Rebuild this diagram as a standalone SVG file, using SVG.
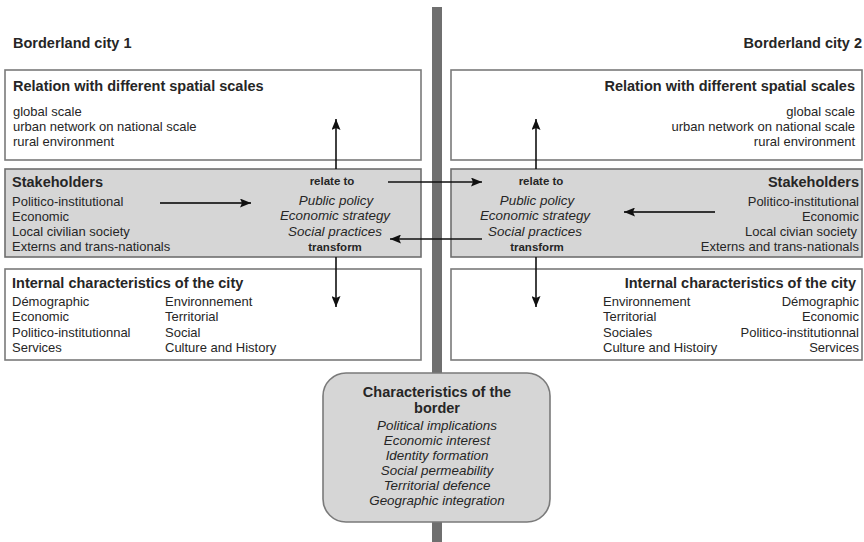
<svg xmlns="http://www.w3.org/2000/svg" width="864" height="542" viewBox="0 0 864 542">
<style>
text{font-family:"Liberation Sans",Arial,sans-serif;fill:#262626}
.h{font-size:14.5px;font-weight:bold}
.b{font-size:13px}
.i{font-size:13.4px;font-style:italic}
.s{font-size:11.5px;font-weight:bold}
.e{text-anchor:end}
.m{text-anchor:middle}
.wbox{fill:#fff;stroke:#7a7a7a;stroke-width:1.6}
.gbox{fill:#d6d6d6;stroke:#6e6e6e;stroke-width:1.6}
.arr{stroke:#111;stroke-width:1.6;fill:none;marker-end:url(#ah)}
.arr2{stroke:#333;stroke-width:2.2;fill:none;marker-end:url(#ah)}
</style>
<defs>
<marker id="ah" markerUnits="userSpaceOnUse" markerWidth="12" markerHeight="9" refX="11" refY="4.5" orient="auto">
<path d="M0,0 L11,4.5 L0,9 L2,4.5 z" fill="#111"/>
</marker>
</defs>
<rect width="864" height="542" fill="#fff"/>
<g id="border-line"><rect x="432" y="7" width="10" height="535" fill="#6f6f6f"/></g>

<g id="title1"><text class="h" x="13" y="48">Borderland city 1</text></g>
<g id="title2"><text class="h e" x="862" y="48">Borderland city 2</text></g>

<g id="scales1">
<rect class="wbox" x="5" y="70" width="416" height="90"/>
<text class="h" x="13" y="91">Relation with different spatial scales</text>
<text class="b" x="13" y="116">global scale</text>
<text class="b" x="13" y="131">urban network on national scale</text>
<text class="b" x="13" y="146">rural environment</text>
</g>
<g id="scales2">
<rect class="wbox" x="451" y="70" width="411" height="90"/>
<text class="h e" x="855" y="91">Relation with different spatial scales</text>
<text class="b e" x="855" y="116">global scale</text>
<text class="b e" x="855" y="131">urban network on national scale</text>
<text class="b e" x="855" y="146">rural environment</text>
</g>

<g id="stake1">
<rect class="gbox" x="5" y="169" width="416" height="88"/>
<text class="h" x="12" y="187">Stakeholders</text>
<text class="b" x="12" y="206">Politico-institutional</text>
<text class="b" x="12" y="221">Economic</text>
<text class="b" x="12" y="236">Local civilian society</text>
<text class="b" x="12" y="251">Externs and trans-nationals</text>
<text class="s m" x="332" y="185">relate to</text>
<text class="i m" x="336" y="205">Public policy</text>
<text class="i m" x="335" y="220">Economic strategy</text>
<text class="i m" x="335" y="236">Social practices</text>
<text class="s m" x="335" y="251">transform</text>
</g>
<g id="stake2">
<rect class="gbox" x="451" y="169" width="411" height="88"/>
<text class="h e" x="859" y="187">Stakeholders</text>
<text class="b e" x="859" y="206">Politico-institutional</text>
<text class="b e" x="859" y="221">Economic</text>
<text class="b e" x="857" y="236">Local civian society</text>
<text class="b e" x="859" y="251">Externs and trans-nationals</text>
<text class="s m" x="541" y="185">relate to</text>
<text class="i m" x="537" y="205">Public policy</text>
<text class="i m" x="535" y="220">Economic strategy</text>
<text class="i m" x="535" y="236">Social practices</text>
<text class="s m" x="537" y="251">transform</text>
</g>

<g id="internal1">
<rect class="wbox" x="5" y="269" width="416" height="91"/>
<text class="h" x="12" y="288">Internal characteristics of the city</text>
<text class="b" x="12" y="306">Démographic</text>
<text class="b" x="12" y="321">Economic</text>
<text class="b" x="12" y="337">Politico-institutionnal</text>
<text class="b" x="12" y="352">Services</text>
<text class="b" x="165" y="306">Environnement</text>
<text class="b" x="165" y="321">Territorial</text>
<text class="b" x="165" y="337">Social</text>
<text class="b" x="165" y="352">Culture and History</text>
</g>
<g id="internal2">
<rect class="wbox" x="451" y="269" width="411" height="91"/>
<text class="h e" x="856" y="288">Internal characteristics of the city</text>
<text class="b" x="603" y="306">Environnement</text>
<text class="b" x="603" y="321">Territorial</text>
<text class="b" x="603" y="337">Sociales</text>
<text class="b" x="603" y="352">Culture and Histoiry</text>
<text class="b e" x="859" y="306">Démographic</text>
<text class="b e" x="859" y="321">Economic</text>
<text class="b e" x="859" y="337">Politico-institutionnal</text>
<text class="b e" x="859" y="352">Services</text>
</g>

<g id="border-characteristics">
<rect x="323" y="373" width="227" height="149" rx="23" ry="23" fill="#d6d6d6" stroke="#7a7a7a" stroke-width="1.6"/>
<text class="h m" x="437" y="397">Characteristics of the</text>
<text class="h m" x="437" y="413">border</text>
<text class="i m" x="437" y="430">Political implications</text>
<text class="i m" x="437" y="445">Economic interest</text>
<text class="i m" x="437" y="460">Identity formation</text>
<text class="i m" x="437" y="475">Social permeability</text>
<text class="i m" x="437" y="490">Territorial defence</text>
<text class="i m" x="437" y="505">Geographic integration</text>
</g>

<g id="connectors">
<line class="arr" x1="336" y1="169" x2="336" y2="119"/>
<line class="arr" x1="336" y1="257" x2="336" y2="307"/>
<line class="arr" x1="536" y1="169" x2="536" y2="119"/>
<line class="arr" x1="536" y1="257" x2="536" y2="307"/>
<line class="arr" x1="388" y1="182" x2="482" y2="182"/>
<line class="arr" x1="482" y1="239" x2="390" y2="239"/>
<line class="arr2" x1="160" y1="203" x2="251" y2="203"/>
<line class="arr2" x1="715" y1="212" x2="624" y2="212"/>
</g>
</svg>
